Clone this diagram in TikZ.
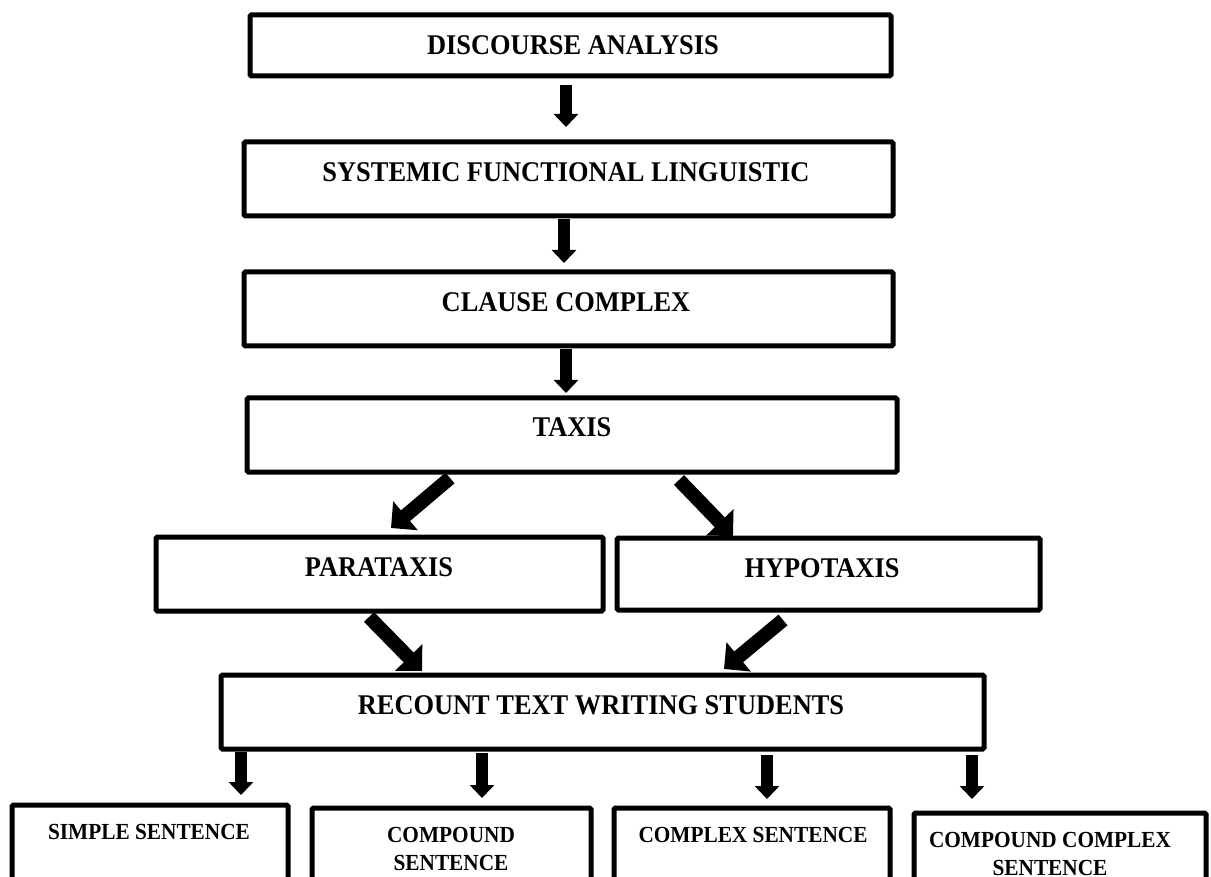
\documentclass[tikz,border=0pt]{standalone}
\usepackage{fontspec}
\setmainfont{Liberation Serif}
\usepackage{graphicx}
\usetikzlibrary{arrows.meta,calc}
\newcommand{\tallt}[1]{\scalebox{1}[1.08]{#1}}
\tikzset{
  box/.style={draw=black, line width=5pt, rounded corners=1.5pt, outer sep=0pt, inner sep=0pt},
  lbl/.style={inner sep=0pt, font=\bfseries\fontsize{26.4}{30}\selectfont},
  slbl/.style={inner sep=0pt, align=center, font=\bfseries\fontsize{21.3}{28}\selectfont},
  blk/.style={line width=11.5pt, -{Triangle[width=24pt,length=13pt]}},
  dblk/.style={line width=14pt, -{Triangle[width=37pt,length=19pt]}}
}
\begin{document}
\begin{tikzpicture}[x=1pt,y=-1pt]
\useasboundingbox (0,0) rectangle (1211,877);
\clip (0,0) rectangle (1211,877);
\fill[white] (0,0) rectangle (1211,877);

% boxes
\node[box, minimum width=641pt, minimum height=61pt] (b1) at (570.5,45.5) {};
\node[box, minimum width=649pt, minimum height=74pt] (b2) at (568.5,179) {};
\node[box, minimum width=649pt, minimum height=74pt] (b3) at (568.5,309) {};
\node[box, minimum width=650pt, minimum height=74pt] (b4) at (572,435) {};
\node[box, minimum width=447pt, minimum height=74pt] (b5) at (379.5,574) {};
\node[box, minimum width=423pt, minimum height=72pt] (b6) at (828.5,574) {};
\node[box, minimum width=763pt, minimum height=74pt] (b7) at (602.5,712) {};
\node[box, minimum width=276pt, minimum height=85pt] (b8) at (150,847.5) {};
\node[box, minimum width=279pt, minimum height=82pt] (b9) at (451.5,849) {};
\node[box, minimum width=276pt, minimum height=82pt] (b10) at (752,849) {};
\node[box, minimum width=292pt, minimum height=77pt] (b11) at (1060,851.5) {};

% labels
\node[lbl] (t1) at (573,45) {\tallt{DISCOURSE ANALYSIS}};
\node[lbl] (t2) at (566,172) {\tallt{SYSTEMIC FUNCTIONAL LINGUISTIC}};
\node[lbl] (t3) at (566,302) {\tallt{CLAUSE COMPLEX}};
\node[lbl] (t4) at (572,427) {\tallt{TAXIS}};
\node[lbl] (t5) at (379,567) {\tallt{PARATAXIS}};
\node[lbl] (t6) at (822,568) {\tallt{HYPOTAXIS}};
\node[lbl] (t7) at (601,705) {\tallt{RECOUNT TEXT WRITING STUDENTS}};
\node[slbl] (t8) at (149,832) {\tallt{SIMPLE SENTENCE}};
\node[slbl] (t9) at (451,849) {\tallt{COMPOUND}\\\tallt{SENTENCE}};
\node[slbl] (t10) at (753,835) {\tallt{COMPLEX SENTENCE}};
\node[slbl] (t11) at (1050,853.5) {\tallt{COMPOUND COMPLEX}\\\tallt{SENTENCE}};

% vertical arrows
\draw[blk] ($(b1.south)+(-4.5,9)$) -- ($(b2.north)+(-2.5,-15)$);
\draw[blk] ($(b2.south)+(-4.5,3)$) -- ($(b3.north)+(-4.5,-9)$);
\draw[blk] ($(b3.south)+(-2.5,3)$) -- ($(b4.north)+(-6,-5)$);

% diagonal arrows
\draw[dblk] ($(b4.south west)+(203,6)$) -- ($(b5.north west)+(235,-9)$);
\draw[dblk] ($(b4.south west)+(432,8)$) -- ($(b6.north west)+(116,-2)$);
\draw[dblk] ($(b5.south west)+(213,6)$) -- ($(b7.north west)+(201,-4)$);
\draw[dblk] ($(b6.south west)+(166,10)$) -- ($(b7.north west)+(503,-6)$);

% bottom arrows
\draw[blk] ($(b7.south west)+(20,3)$) -- ($(b8.north west)+(229,-10)$);
\draw[blk] ($(b7.south west)+(261,4)$) -- ($(b9.north west)+(170,-10)$);
\draw[blk] ($(b7.south west)+(546,6)$) -- ($(b10.north west)+(153,-9)$);
\draw[blk] ($(b7.south west)+(751,6)$) -- ($(b11.north west)+(58,-14)$);
\end{tikzpicture}
\end{document}
